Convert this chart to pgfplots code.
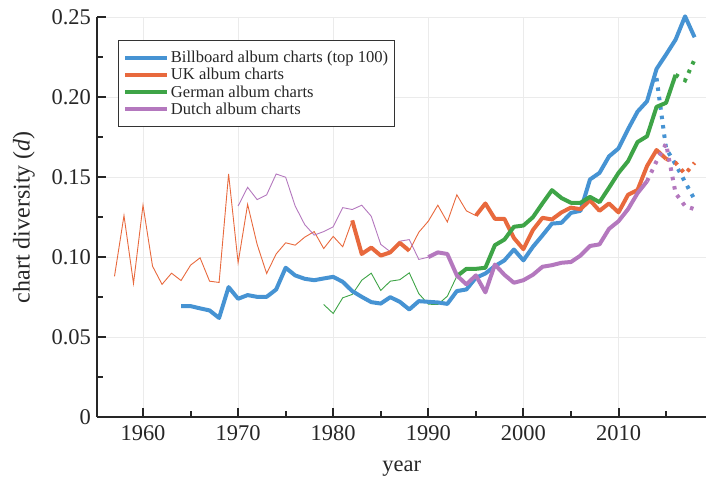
\documentclass[border=0pt]{standalone}
\usepackage{fontspec}
\setmainfont{Liberation Serif}
\usepackage{pgfplots}
\pgfplotsset{compat=1.18}

\definecolor{cBlue}{RGB}{70,147,211}
\definecolor{cOrange}{RGB}{232,105,61}
\definecolor{cGreen}{RGB}{62,164,71}
\definecolor{cPurple}{RGB}{180,120,190}

\begin{document}
\begin{tikzpicture}
\begin{axis}[
  at={(0,0)}, anchor=south west,
  scale only axis,
  width=609.5bp, height=400.4bp,
  xmin=1955.2, xmax=2019.2,
  ymin=0, ymax=0.25,
  axis x line=bottom, axis y line=left,
  axis line style={-, line width=2bp, black!85},
  xtick={1960,1970,...,2010},
  minor xtick={1965,1975,...,2015},
  ytick={0,0.05,0.10,0.15,0.20,0.25},
  yticklabels={0,0.05,0.10,0.15,0.20,0.25},
  minor ytick={0.025,0.075,0.125,0.175,0.225},
  tick align=inside,
  major tick length=9bp, minor tick length=6bp,
  every tick/.style={line width=2bp, black!85},
  grid=major,
  major grid style={line width=0.8bp, black!8},
  /pgf/number format/assume math mode=true,
  xticklabel style={/pgf/number format/1000 sep={}, yshift=-5bp},
  yticklabel style={xshift=-3bp},
  tick label style={font=\fontsize{22.5bp}{27bp}\selectfont, text=black!85},
  xlabel={year},
  ylabel={chart diversity (\textit{d})},
  xlabel style={at={(axis description cs:0.5,0)}, anchor=base, yshift=-54.5bp,
    font=\fontsize{22.5bp}{27bp}\selectfont, text=black!85},
  ylabel style={yshift=10bp, font=\fontsize{24bp}{28bp}\selectfont, text=black!85},
  legend style={at={(axis description cs:0.0336,0.9433)}, anchor=north west,
    draw=black!80, line width=1.2bp, fill=white,
    font=\fontsize{16.6bp}{17.5bp}\selectfont, text=black!85,
    inner xsep=5bp, inner ysep=9bp,
    row sep=1bp,
    nodes={inner sep=1.6bp}},
  legend cell align=left,
  legend image code/.code={\draw[#1, solid] (0bp,0bp) -- (42bp,0bp);},
  clip=false,
]
\addlegendimage{cBlue, line width=4bp}
\addlegendentry{Billboard album charts (top 100)}
\addlegendimage{cOrange, line width=4bp}
\addlegendentry{UK album charts}
\addlegendimage{cGreen, line width=4bp}
\addlegendentry{German album charts}
\addlegendimage{cPurple, line width=4bp}
\addlegendentry{Dutch album charts}

% UK thin parts
\addplot[cOrange, line width=0.9bp, forget plot] coordinates {
(1957,0.088) (1958,0.126) (1959,0.0836) (1960,0.1325) (1961,0.0944)
(1962,0.083) (1963,0.090) (1964,0.0854) (1965,0.095) (1966,0.0996)
(1967,0.085) (1968,0.0842) (1969,0.152) (1970,0.0965) (1971,0.133)
(1972,0.108) (1973,0.0898) (1974,0.102) (1975,0.109) (1976,0.1075)
(1977,0.1125) (1978,0.116) (1979,0.1054) (1980,0.113) (1981,0.1065)
(1982,0.123)};
\addplot[cOrange, line width=0.9bp, forget plot] coordinates {
(1988,0.104) (1989,0.1156) (1990,0.1225) (1991,0.1325) (1992,0.122)
(1993,0.139) (1994,0.129) (1995,0.126)};
% German thin
\addplot[cGreen, line width=0.9bp, forget plot] coordinates {
(1979,0.0704) (1980,0.0648) (1981,0.0746) (1982,0.0767) (1983,0.0856)
(1984,0.090) (1985,0.0792) (1986,0.085) (1987,0.0859) (1988,0.0902)
(1989,0.0772) (1990,0.0706) (1991,0.0704) (1992,0.0756) (1993,0.0881)};
% Dutch thin
\addplot[cPurple, line width=0.9bp, forget plot] coordinates {
(1970,0.132) (1971,0.1437) (1972,0.136) (1973,0.139) (1974,0.152)
(1975,0.150) (1976,0.132) (1977,0.1204) (1978,0.1138) (1979,0.116)
(1980,0.119) (1981,0.131) (1982,0.1298) (1983,0.1325) (1984,0.1256)
(1985,0.108) (1986,0.1034) (1987,0.110) (1988,0.111) (1989,0.0986)
(1990,0.100)};

% Billboard
\addplot[cBlue, line width=4bp, line join=round, forget plot] coordinates {
(1964,0.0694) (1965,0.0694) (1966,0.068) (1967,0.0667) (1968,0.062)
(1969,0.0813) (1970,0.074) (1971,0.0763) (1972,0.0752) (1973,0.0752)
(1974,0.0798) (1975,0.0934) (1976,0.0886) (1977,0.0865) (1978,0.0856)
(1979,0.0867) (1980,0.0877) (1981,0.0846) (1982,0.0788) (1983,0.0752)
(1984,0.0719) (1985,0.071) (1986,0.075) (1987,0.0721) (1988,0.0673)
(1989,0.0725) (1990,0.0721) (1991,0.0717) (1992,0.0708) (1993,0.0788)
(1994,0.0798) (1995,0.0871) (1996,0.0898) (1997,0.0944) (1998,0.098)
(1999,0.1048) (2000,0.098) (2001,0.1065) (2002,0.1136) (2003,0.121)
(2004,0.1215) (2005,0.1277) (2006,0.129) (2007,0.1486) (2008,0.1527)
(2009,0.163) (2010,0.168) (2011,0.18) (2012,0.191) (2013,0.1975)
(2014,0.2177) (2015,0.2267) (2016,0.236) (2017,0.2506) (2018,0.2375)};
\addplot[cBlue, line width=4bp, dash pattern=on 3.5bp off 6bp, forget plot] coordinates {
(2014,0.212) (2015,0.168) (2016,0.158) (2017,0.147) (2018,0.136)};

% UK thick
\addplot[cOrange, line width=4bp, line join=round, forget plot] coordinates {
(1982,0.123) (1983,0.102) (1984,0.106) (1985,0.101) (1986,0.103)
(1987,0.109) (1988,0.104)};
\addplot[cOrange, line width=4bp, line join=round, forget plot] coordinates {
(1995,0.126) (1996,0.1336) (1997,0.124) (1998,0.124) (1999,0.112)
(2000,0.105) (2001,0.117) (2002,0.1246) (2003,0.1236) (2004,0.128)
(2005,0.131) (2006,0.130) (2007,0.1356) (2008,0.129) (2009,0.1336)
(2010,0.128) (2011,0.139) (2012,0.142) (2013,0.157) (2014,0.167)
(2015,0.1615)};
\addplot[cOrange, line width=4bp, dash pattern=on 3.5bp off 6bp, forget plot] coordinates {
(2015,0.1615) (2016,0.159) (2017,0.152) (2018,0.159)};

% German thick
\addplot[cGreen, line width=4bp, line join=round, forget plot] coordinates {
(1993,0.0881) (1994,0.0927) (1995,0.0927) (1996,0.0934) (1997,0.1075)
(1998,0.111) (1999,0.119) (2000,0.1198) (2001,0.125) (2002,0.1336)
(2003,0.1419) (2004,0.137) (2005,0.134) (2006,0.134) (2007,0.1377)
(2008,0.1344) (2009,0.1434) (2010,0.1527) (2011,0.160) (2012,0.172)
(2013,0.1756) (2014,0.194) (2015,0.1965) (2016,0.214)};
\addplot[cGreen, line width=4bp, dash pattern=on 3.5bp off 6bp, forget plot] coordinates {
(2016,0.214) (2017,0.2106) (2018,0.2236)};

% Dutch thick
\addplot[cPurple, line width=4bp, line join=round, forget plot] coordinates {
(1990,0.100) (1991,0.103) (1992,0.102) (1993,0.0886) (1994,0.083)
(1995,0.0886) (1996,0.078) (1997,0.0954) (1998,0.089) (1999,0.084)
(2000,0.0856) (2001,0.089) (2002,0.094) (2003,0.095) (2004,0.0965)
(2005,0.097) (2006,0.101) (2007,0.107) (2008,0.108) (2009,0.1177)
(2010,0.1225) (2011,0.130) (2012,0.140) (2013,0.1475)};
\addplot[cPurple, line width=4bp, dash pattern=on 3.5bp off 6bp, forget plot] coordinates {
(2013,0.1475) (2014,0.160) (2015,0.171) (2016,0.140) (2017,0.132) (2018,0.130)};
\end{axis}
\path[use as bounding box] (-97.5bp,-62.3bp) rectangle (609.5bp,417.7bp);
\end{tikzpicture}
\end{document}
